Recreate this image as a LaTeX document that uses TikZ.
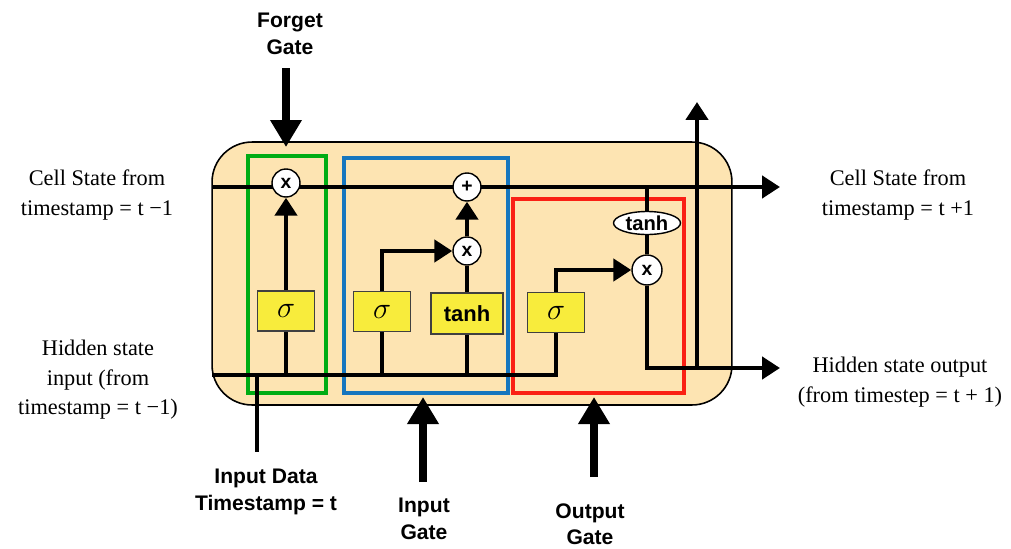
\documentclass[tikz,border=0pt]{standalone}
\usepackage{fontspec}
\setmainfont{Liberation Serif}
\newfontfamily\hsans{Liberation Sans}
\usetikzlibrary{arrows.meta,shapes.geometric}
\pgfdeclarelayer{back}\pgfdeclarelayer{mid}
\pgfsetlayers{back,mid,main}
\definecolor{cellfill}{RGB}{253,228,178}
\definecolor{gyellow}{RGB}{248,236,60}
\definecolor{ggreen}{RGB}{0,172,20}
\definecolor{gblue}{RGB}{22,118,190}
\definecolor{gred}{RGB}{250,32,20}
\begin{document}
\begin{tikzpicture}[x=0.02cm,y=-0.02cm,
  wire/.style={line width=0.09cm,black},
  arr/.style={wire,-{Triangle[length=0.36cm,width=0.44cm]}},
  gatearr/.style={line width=0.15cm,black,-{Triangle[length=0.54cm,width=0.6cm]}},
  ybox/.style={draw=black!75,line width=0.7pt,fill=gyellow,minimum width=1.14cm,minimum height=0.8cm,inner sep=0pt,font=\fontsize{18}{18}\selectfont},
  op/.style={circle,draw=black,line width=0.8pt,fill=white,minimum size=0.56cm,inner sep=0pt,font=\hsans\bfseries\fontsize{11}{11}\selectfont},
  gbox/.style={draw=#1,line width=0.08cm,inner sep=0pt},
  lbl/.style={align=center,font=\fontsize{12.7}{16.8}\selectfont},
  glbl/.style={align=center,font=\hsans\bfseries\fontsize{12}{15}\selectfont},
]
\useasboundingbox (0,0) rectangle (1011,548);

\begin{pgfonlayer}{back}
\node[draw=black,line width=0.9pt,fill=cellfill,rounded corners=0.8cm,minimum width=10.4cm,minimum height=5.26cm,inner sep=0pt] (cell) at (472,273.5) {};
\node[gbox=ggreen,minimum width=1.56cm,minimum height=4.74cm] (fgbox) at (287,274.5) {};
\node[gbox=gblue,minimum width=3.28cm,minimum height=4.70cm] (igbox) at (426,275.5) {};
\node[gbox=gred,minimum width=3.42cm,minimum height=3.88cm] (ogbox) at (598.5,296) {};
\end{pgfonlayer}

% operation nodes
\node[ybox] (fs) at (286,311) {$\sigma$};
\node[ybox] (is) at (382,311.5) {$\sigma$};
\node[ybox,minimum width=1.44cm,minimum height=0.82cm,font=\hsans\bfseries\fontsize{12.5}{12.5}\selectfont] (tb) at (467,313.5) {tanh};
\node[ybox] (os) at (556,312.5) {$\sigma$};
\node[op] (fx) at (286,183) {x};
\node[op] (plus) at (467,187) {+};
\node[op] (ix) at (467,251) {x};
\node[op,minimum size=0.6cm] (ox) at (647,270) {x};
\node[ellipse,draw=black,line width=0.8pt,fill=white,minimum width=1.34cm,minimum height=0.46cm,inner sep=0pt,font=\hsans\bfseries\fontsize{11.5}{11.5}\selectfont] (th) at (647,223) {tanh};

% coordinates
\coordinate (csin) at (212,187);
\coordinate (csout) at (780,187);
\coordinate (hin) at (212,375);
\coordinate (hout) at (780,368);
\coordinate (hj) at (697,368);
\coordinate (hup) at (697,102);
\coordinate (xj) at (257,375);
\coordinate (xin) at (257,452);
\coordinate (ct) at (647,187);

\begin{pgfonlayer}{mid}
\draw[arr] (csin) -- (csout);
\draw[wire] (hin) -- (hin -| os.south) -- (os.south);
\draw[wire] (fs.south) -- (fs.south |- hin);
\draw[wire] (is.south) -- (is.south |- hin);
\draw[wire] (tb.south) -- (tb.south |- hin);
\draw[arr] (fs.north) -- (fx.south);
\draw[arr] (is.north) |- (ix.west);
\draw[wire] (tb.north) -- (ix.south);
\draw[arr] (ix.north) -- (plus.south);
\draw[arr] (os.north) |- (ox.west);
\draw[wire] (ct) -- (th.north);
\draw[wire] (th.south) -- (ox.north);
\draw[arr] (ox.south) |- (hout);
\draw[arr] (hj) -- (hup);
\draw[wire] (xj) -- (xin);
\end{pgfonlayer}

% labels
\node[glbl] (fg) at (290,34) {Forget\\Gate};
\node[glbl] (ind) at (266,492) {Input Data\\Timestamp = t};
\node[glbl] (ig) at (424,519) {Input\\Gate};
\node[glbl] (og) at (590,524) {Output\\Gate};
\node[lbl] (csl) at (97,195) {Cell State from\\timestamp = t −1};
\node[lbl] (hsl) at (98,380) {Hidden state\\input (from\\timestamp = t −1)};
\node[lbl] (csr) at (898,195) {Cell State from\\timestamp = t +1};
\node[lbl] (hsr) at (900,382) {Hidden state output\\(from timestep = t + 1)};

% gate arrows
\coordinate (fga) at (286,68);
\coordinate (fgb) at (286,147);
\coordinate (iga) at (423,482);
\coordinate (igb) at (423,397);
\coordinate (oga) at (594,477);
\coordinate (ogb) at (594,397);
\draw[gatearr] (fga) -- (fgb);
\draw[gatearr] (iga) -- (igb);
\draw[gatearr] (oga) -- (ogb);
\end{tikzpicture}
\end{document}
